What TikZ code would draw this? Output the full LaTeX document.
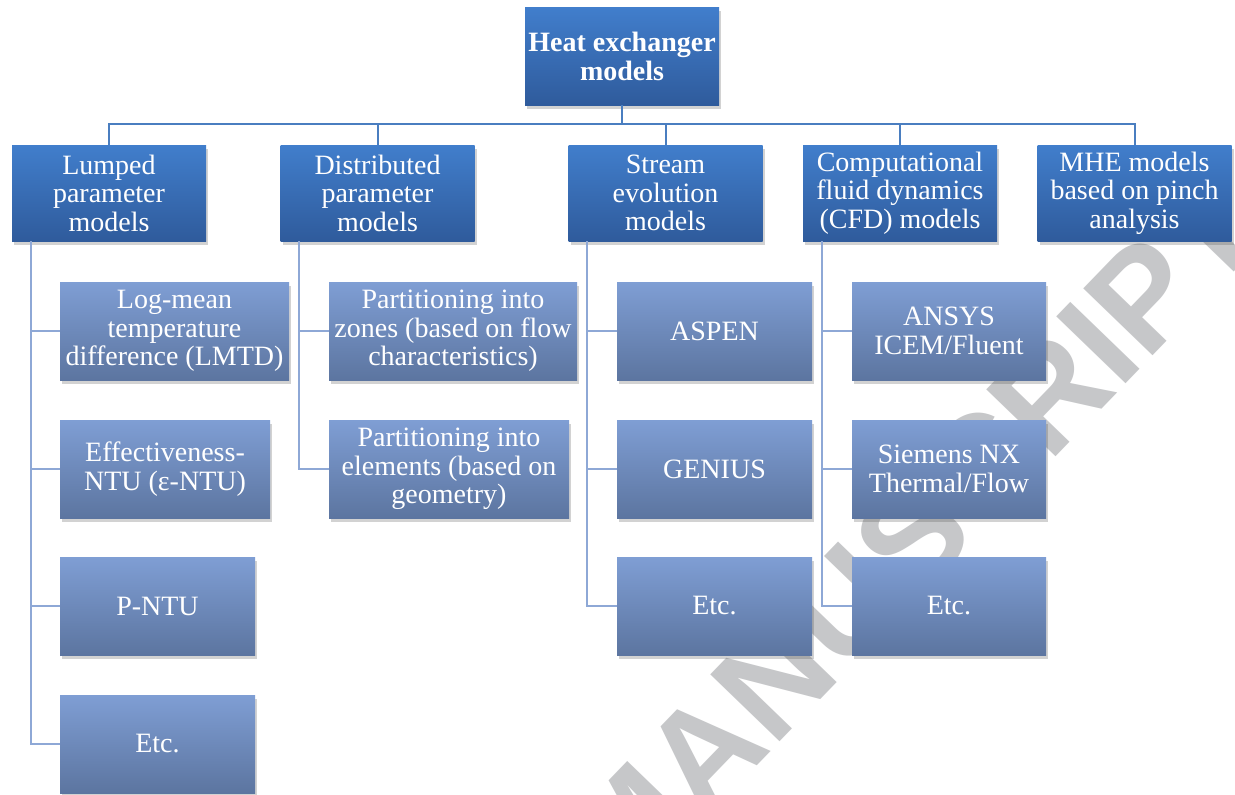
\documentclass[tikz,border=0pt]{standalone}
\usepackage{fontspec}
\setmainfont{Liberation Serif}
\newfontfamily\wmfont{Liberation Sans}
\usetikzlibrary{shadows}
\definecolor{topA}{HTML}{417ECC}
\definecolor{botA}{HTML}{2F5B9C}
\definecolor{topB}{HTML}{7F9ED4}
\definecolor{botB}{HTML}{5C75A0}
\definecolor{lineA}{HTML}{4A7EC0}
\definecolor{lineB}{HTML}{8EA8D6}
\definecolor{wm}{HTML}{C6C7C9}
\tikzset{
  box/.style={draw=none, inner sep=0pt, align=center, text=white,
    font=\fontsize{28}{28.5}\selectfont,
    drop shadow={shadow xshift=2pt, shadow yshift=-4pt, opacity=0.25, fill=black!70}},
  mainbox/.style={box, top color=topA, bottom color=botA, minimum height=96pt, minimum width=194pt},
  subbox/.style={box, top color=topB, bottom color=botB, minimum height=98pt},
  conA/.style={draw=lineA, line width=2pt},
  conB/.style={draw=lineB, line width=2pt},
  watermark/.style={text=wm, font=\wmfont\bfseries\fontsize{140}{140}\selectfont, inner sep=0pt}
}
\begin{document}
\begin{tikzpicture}[x=1pt, y=-1pt]
\useasboundingbox (0,0) rectangle (1235,795);
\clip (0,0) rectangle (1235,795);
\fill[white] (0,0) rectangle (1235,795);
% watermark
\node[watermark, rotate=46] (wmk) at (912,536) {MANUSCRIPT};
% root
\node[mainbox, minimum height=98pt, font=\bfseries\fontsize{28}{29}\selectfont] (root) at (622,56) {Heat exchanger\\models};
% level 1
\node[mainbox] (lump) at (109,193) {Lumped\\parameter\\models};
\node[mainbox] (dist) at (377.5,193) {Distributed\\parameter\\models};
\node[mainbox] (strm) at (665.5,193) {Stream\\evolution\\models};
\node[mainbox] (cfd) at (900,193) {Computational\\fluid dynamics\\(CFD) models};
\node[mainbox] (mhe) at (1134.5,193) {MHE models\\based on pinch\\analysis};
% lumped children
\node[subbox, minimum width=229pt] (lmtd) at (174.5,331) {Log-mean\\temperature\\difference (LMTD)};
\node[subbox, minimum width=210pt] (entu) at (165,469) {Effectiveness-\\NTU (ε-NTU)};
\node[subbox, minimum width=195pt] (pntu) at (157.5,606) {P-NTU};
\node[subbox, minimum width=195pt] (etcA) at (157.5,744) {Etc.};
% distributed children
\node[subbox, minimum width=248pt] (zones) at (453,331) {Partitioning into\\zones (based on flow\\characteristics)};
\node[subbox, minimum width=240pt] (elem) at (449,469) {Partitioning into\\elements (based on\\geometry)};
% stream children
\node[subbox, minimum width=195pt] (aspen) at (714.5,331) {ASPEN};
\node[subbox, minimum width=195pt] (genius) at (714.5,469) {GENIUS};
\node[subbox, minimum width=195pt] (etcB) at (714.5,606) {Etc.};
% cfd children
\node[subbox, minimum width=194pt] (ansys) at (949,331) {ANSYS\\ICEM/Fluent};
\node[subbox, minimum width=194pt] (siem) at (949,469) {Siemens NX\\Thermal/Flow};
\node[subbox, minimum width=194pt] (etcC) at (949,606) {Etc.};
% bus
\coordinate (bus) at (0,124);
\draw[conA] (root.south) -- (root.south |- bus);
\draw[conA] (lump.north) -- (lump.north |- bus) -| (mhe.north);
\draw[conA] (dist.north) -- (dist.north |- bus);
\draw[conA] (strm.north) -- (strm.north |- bus);
\draw[conA] (cfd.north) -- (cfd.north |- bus);
% child connectors
\coordinate (lx) at ([xshift=19pt]lump.south west);
\coordinate (dx) at ([xshift=19pt]dist.south west);
\coordinate (sx) at ([xshift=19pt]strm.south west);
\coordinate (cx) at ([xshift=19pt]cfd.south west);
\draw[conB] (lx) |- (etcA.west);
\draw[conB] (lx |- lmtd.west) -- (lmtd.west);
\draw[conB] (lx |- entu.west) -- (entu.west);
\draw[conB] (lx |- pntu.west) -- (pntu.west);
\draw[conB] (dx) |- (elem.west);
\draw[conB] (dx |- zones.west) -- (zones.west);
\draw[conB] (sx) |- (etcB.west);
\draw[conB] (sx |- aspen.west) -- (aspen.west);
\draw[conB] (sx |- genius.west) -- (genius.west);
\draw[conB] (cx) |- (etcC.west);
\draw[conB] (cx |- ansys.west) -- (ansys.west);
\draw[conB] (cx |- siem.west) -- (siem.west);
\end{tikzpicture}
\end{document}
